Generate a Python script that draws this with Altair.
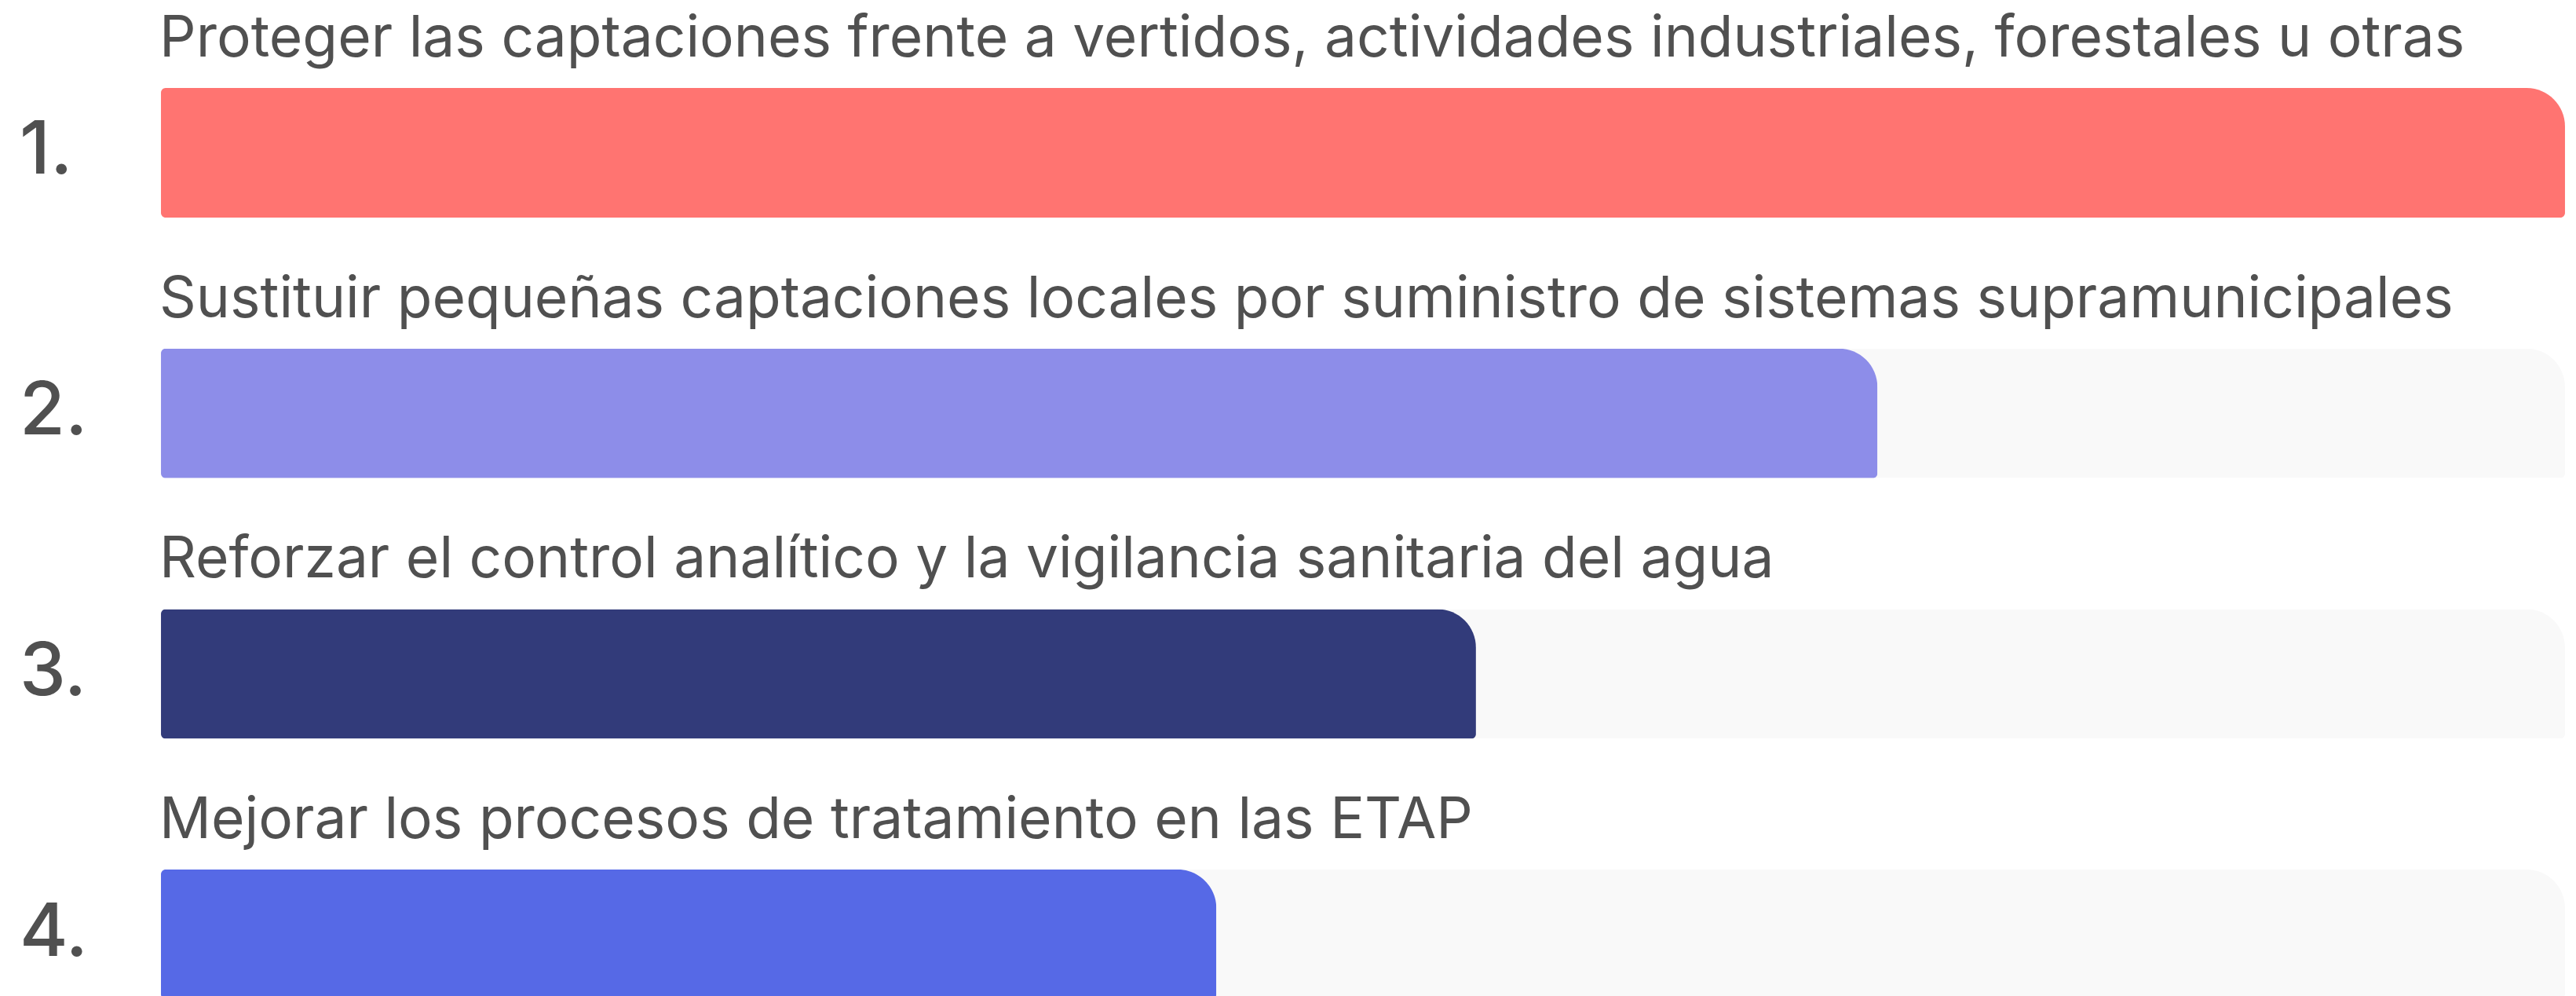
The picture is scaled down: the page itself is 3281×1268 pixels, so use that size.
import altair as alt
import pandas as pd

ranks = ["1.", "2.", "3.", "4."]
labels = [
    "Proteger las captaciones frente a vertidos, actividades industriales, forestales u otras",
    "Sustituir pequeñas captaciones locales por suministro de sistemas supramunicipales",
    "Reforzar el control analítico y la vigilancia sanitaria del agua",
    "Mejorar los procesos de tratamiento en las ETAP",
]
values = [100, 71.4, 54.7, 43.9]
colors = ["#FF7471", "#8D8DE9", "#323B7A", "#5669E6"]
max_value = 100

df = pd.DataFrame({
    "rank": ranks,
    "label": labels,
    "value": values,
    "color": colors,
    "full": [max_value] * len(values),
})

BAR_H = 165
STEP = 331.7
text_color = "#505050"

y = alt.Y("rank:N", sort=ranks, axis=None,
          scale=alt.Scale(paddingInner=0, paddingOuter=0))
x_scale = alt.Scale(domain=[0, max_value], nice=False, zero=True)

radii = dict(cornerRadiusTopRight=49, cornerRadiusBottomRight=6,
             cornerRadiusTopLeft=6, cornerRadiusBottomLeft=6)

bg = alt.Chart(df).mark_bar(size=BAR_H, color="#F9F9F9", **radii).encode(
    y=y,
    x=alt.X("full:Q", scale=x_scale, axis=None),
)

bars = alt.Chart(df).mark_bar(size=BAR_H, **radii).encode(
    y=y,
    x=alt.X("value:Q", scale=x_scale, axis=None),
    color=alt.Color("color:N", scale=None, legend=None),
)

titles = alt.Chart(df).mark_text(
    align="left", baseline="alphabetic", dy=-122.5, dx=-2,
    font="Inter", fontSize=73, fontWeight=400, color=text_color,
).encode(
    y=y,
    x=alt.value(0),
    text="label:N",
)

nums = alt.Chart(df).mark_text(
    align="left", baseline="alphabetic", dy=27,
    font="Inter", fontSize=94, fontWeight=500, color=text_color,
).encode(
    y=y,
    x=alt.value(-180),
    text="rank:N",
)

chart = alt.layer(bg, bars, titles, nums).properties(
    width=3062,
    height=alt.Step(STEP),
    padding={"left": 197, "top": 20.65, "right": 0, "bottom": 0},
    autosize=alt.AutoSizeParams(type="none"),
    background="white",
).configure_view(stroke="transparent", strokeWidth=0)

chart.save("out.html", embed_options={"renderer": "svg", "actions": False})
